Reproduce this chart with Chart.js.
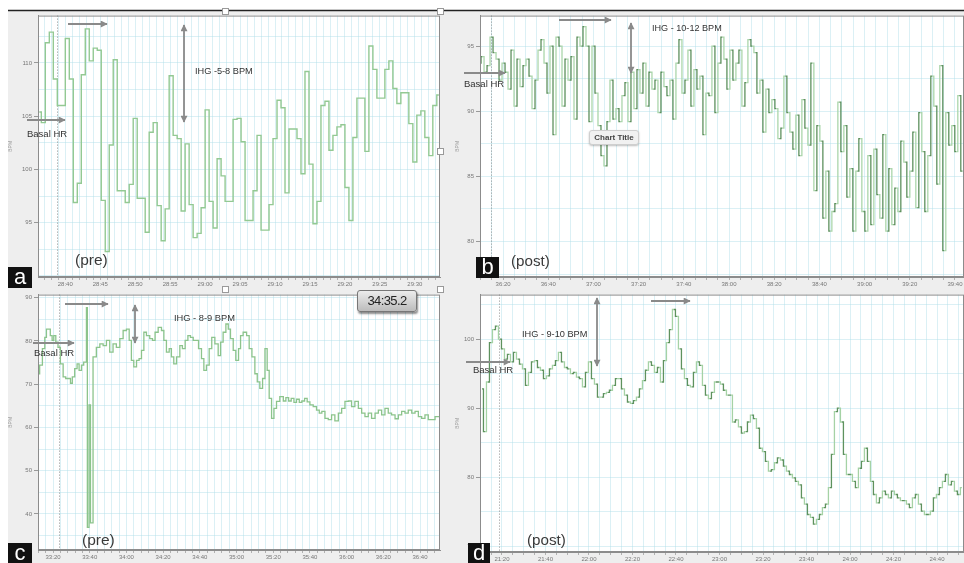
<!DOCTYPE html>
<html>
<head>
<meta charset="utf-8">
<script src="https://cdn.jsdelivr.net/npm/chart.js@4.4.1/dist/chart.umd.min.js"></script>
<style>
body{margin:0;background:#fff;}
#page{position:relative;width:964px;height:563px;overflow:hidden;font-family:"Liberation Sans",Arial,sans-serif;}
canvas{position:absolute;}
.t{position:absolute;white-space:nowrap;color:#333;line-height:1;}
.lab{position:absolute;background:#111;color:#fff;font-size:22px;line-height:20px;text-align:center;}
.hd{position:absolute;width:5px;height:5px;background:#fff;border:1px solid #999;}
</style>
</head>
<body>
<div id="page">
<canvas id="ca" width="447" height="281" style="left:8px;top:10px"></canvas>
<canvas id="cb" width="509" height="281" style="left:455px;top:10px"></canvas>
<canvas id="cc" width="447" height="274" style="left:8px;top:289px"></canvas>
<canvas id="cd" width="509" height="274" style="left:455px;top:289px"></canvas>

<svg width="964" height="563" style="position:absolute;left:0;top:0">
<defs>
<marker id="ah" viewBox="0 0 10 10" refX="9" refY="5" markerWidth="8" markerHeight="7" markerUnits="userSpaceOnUse" orient="auto-start-reverse">
<path d="M0,0 L10,5 L0,10 z" fill="#8a8a8a"/>
</marker>
</defs>
<line x1="8" y1="10.5" x2="964" y2="10.5" stroke="#222" stroke-width="1.5"/>
<!-- a -->
<line x1="68" y1="24" x2="107" y2="24" stroke="#8a8a8a" stroke-width="1.8" marker-end="url(#ah)"/>
<line x1="27" y1="120" x2="65" y2="120" stroke="#8a8a8a" stroke-width="1.8" marker-end="url(#ah)"/>
<line x1="184" y1="25" x2="184" y2="122" stroke="#8a8a8a" stroke-width="1.8" marker-start="url(#ah)" marker-end="url(#ah)"/>
<!-- b -->
<line x1="559" y1="20" x2="611" y2="20" stroke="#8a8a8a" stroke-width="1.8" marker-end="url(#ah)"/>
<line x1="464" y1="73" x2="505" y2="73" stroke="#8a8a8a" stroke-width="1.8" marker-end="url(#ah)"/>
<line x1="631" y1="23" x2="631" y2="73" stroke="#8a8a8a" stroke-width="1.8" marker-start="url(#ah)" marker-end="url(#ah)"/>
<!-- c -->
<line x1="65" y1="304" x2="108" y2="304" stroke="#8a8a8a" stroke-width="1.8" marker-end="url(#ah)"/>
<line x1="33" y1="343" x2="74" y2="343" stroke="#8a8a8a" stroke-width="1.8" marker-end="url(#ah)"/>
<line x1="135" y1="305" x2="135" y2="343" stroke="#8a8a8a" stroke-width="1.8" marker-start="url(#ah)" marker-end="url(#ah)"/>
<!-- d -->
<line x1="651" y1="301" x2="690" y2="301" stroke="#8a8a8a" stroke-width="1.8" marker-end="url(#ah)"/>
<line x1="466" y1="362" x2="510" y2="362" stroke="#8a8a8a" stroke-width="1.8" marker-end="url(#ah)"/>
<line x1="597" y1="298" x2="597" y2="366" stroke="#8a8a8a" stroke-width="1.8" marker-start="url(#ah)" marker-end="url(#ah)"/>
</svg>

<div class="hd" style="left:222px;top:8px"></div>
<div class="hd" style="left:437px;top:8px"></div>
<div class="hd" style="left:437px;top:148px"></div>
<div class="hd" style="left:437px;top:286px"></div>
<div class="hd" style="left:222px;top:286px"></div>

<div class="t" style="left:27px;top:129px;font-size:9.5px">Basal HR</div>
<div class="t" style="left:195px;top:67px;font-size:9.2px">IHG -5-8 BPM</div>
<div class="t" style="left:75px;top:252px;font-size:15.5px;color:#3a3a3a">(pre)</div>

<div class="t" style="left:464px;top:79px;font-size:9.5px">Basal HR</div>
<div class="t" style="left:652px;top:24px;font-size:9.1px">IHG - 10-12 BPM</div>
<div class="t" style="left:511px;top:253px;font-size:15.2px;color:#3a3a3a">(post)</div>
<div class="t" style="left:589px;top:130px;width:48px;height:13px;line-height:13px;text-align:center;font-size:8px;font-weight:bold;color:#444;background:#f1f1f1;border:1px solid #cfcfcf;border-radius:3px;box-shadow:0 1px 2px rgba(0,0,0,0.25)">Chart Title</div>

<div class="t" style="left:34px;top:348px;font-size:9.5px">Basal HR</div>
<div class="t" style="left:174px;top:314px;font-size:9.3px">IHG - 8-9 BPM</div>
<div class="t" style="left:82px;top:532px;font-size:15.5px;color:#3a3a3a">(pre)</div>
<div class="t" style="left:357px;top:290px;width:58px;height:20px;line-height:20px;text-align:center;font-size:13px;color:#222;letter-spacing:-0.6px;background:linear-gradient(#ececec,#bcbcbc);border:1px solid #777;border-radius:3px;box-shadow:1px 2px 2px rgba(0,0,0,0.45)">34:35.2</div>

<div class="t" style="left:473px;top:365px;font-size:9.5px">Basal HR</div>
<div class="t" style="left:522px;top:330px;font-size:9.2px">IHG - 9-10 BPM</div>
<div class="t" style="left:527px;top:532px;font-size:15.2px;color:#3a3a3a">(post)</div>

<div class="lab" style="left:8px;top:267px;width:24px;height:21px">a</div>
<div class="lab" style="left:476px;top:257px;width:23px;height:21px">b</div>
<div class="lab" style="left:8px;top:543px;width:24px;height:20px">c</div>
<div class="lab" style="left:468px;top:543px;width:22px;height:20px">d</div>
</div>

<script>
var FONT = '"Liberation Sans", Arial, sans-serif';
var GRID = 'rgba(175,222,232,0.45)';

// panel a (pre) - beat to beat HR, one value per beat slot
var aStart = 1716.29, aStep = 0.5714;
var aHR = [105.4, 104.4, 111.9, 112.9, 108.5, 106.0, 106.0, 112.3, 108.5, 96.9,
  98.7, 108.9, 113.2, 110.2, 111.4, 111.2, 97.1, 92.3, 102.3, 110.3,
  98.0, 98.0, 96.9, 98.6, 104.8, 97.3, 97.3, 94.1, 103.5, 104.4,
  96.6, 93.3, 96.3, 108.8, 103.2, 102.9, 96.1, 102.4, 96.7, 93.6,
  94.0, 96.4, 105.6, 97.0, 94.5, 101.0, 99.4, 97.0, 97.0, 104.7,
  104.8, 102.6, 95.2, 95.2, 98.0, 103.2, 94.3, 94.3, 96.7, 102.9,
  106.5, 105.8, 97.8, 103.8, 103.8, 102.9, 99.6, 109.2, 100.5, 94.9,
  97.0, 106.0, 106.4, 101.8, 103.2, 104.0, 104.2, 98.3, 95.2, 103.0,
  106.7, 106.7, 101.7, 111.6, 109.4, 106.7, 106.7, 109.4, 110.2, 107.6,
  106.2, 107.2, 107.2, 104.3, 100.7, 105.1, 105.5, 103.0, 101.3, 106.0,
  107.0];
var aXMajor = ['28:40','28:45','28:50','28:55','29:00','29:05','29:10','29:15','29:20','29:25','29:30'];
var aYMajor = [95, 100, 105, 110];
var aMark = 1718.86;

// panel b (post)
var bStart = 2169.6, bStep = 1.327;
var bHR = [93.7, 94.2, 93.0, 93.5, 95.7, 94.5, 94.0, 92.4, 93.7, 93.0,
  91.7, 94.7, 90.4, 94.0, 91.9, 93.5, 94.0, 92.7, 90.2, 92.4,
  94.7, 95.5, 93.7, 91.4, 95.0, 88.2, 95.7, 95.0, 90.4, 94.0,
  92.4, 94.2, 89.4, 95.7, 95.0, 96.5, 95.0, 89.2, 95.0, 91.4,
  88.9, 86.6, 85.8, 89.2, 92.4, 89.4, 90.2, 89.2, 91.2, 92.2,
  89.2, 93.0, 90.2, 93.2, 91.4, 93.7, 90.4, 93.0, 91.7, 92.4,
  89.9, 93.0, 91.9, 91.2, 92.4, 89.4, 93.7, 95.5, 91.4, 92.4,
  94.7, 90.4, 93.2, 91.7, 92.7, 88.2, 91.4, 91.2, 95.0, 89.9,
  93.7, 95.7,
  94.0, 91.7, 94.7, 92.4, 93.7, 94.7, 90.4, 92.2, 95.5, 95.0,
  94.5, 91.4, 92.4, 88.4, 91.7, 89.9, 90.9, 90.2, 87.9, 88.7,
  92.7, 89.9, 88.4, 87.1, 89.7, 86.6, 90.9, 88.7, 87.4, 93.7,
  83.9, 88.9, 87.7, 81.8, 85.4, 80.8, 82.3, 82.9, 90.7, 86.9,
  88.9, 83.4, 85.6, 80.8, 85.4, 87.9, 82.3, 80.8, 86.6, 81.3,
  87.1, 83.6, 81.8, 88.2, 80.8, 85.6, 81.3, 84.1, 82.3, 87.7,
  86.1, 83.4, 85.4, 88.4, 82.6, 89.9, 86.9, 82.3, 86.6, 92.7,
  90.4, 84.4, 93.5, 79.3, 89.9, 87.4, 88.9, 86.9, 91.2, 85.4,
  88.7, 87.4];
var bXMajor = ['36:20','36:40','37:00','37:20','37:40','38:00','38:20','38:40','39:00','39:20','39:40'];
var bYMajor = [80, 85, 90, 95];
var bMark = 2174.7;

// panel c (pre) - step start times (s) and HR
var cTime = [1991.8, 1992.7, 1994.2, 1995.5, 1996.4, 1998.5, 1999.5, 2000.4, 2001.5, 2002.7,
  2004.0, 2005.5, 2006.9, 2009.5, 2010.5, 2011.8, 2013.1, 2014.2, 2015.5, 2016.7,
  2018.2, 2018.7, 2019.6, 2020.4, 2021.8, 2023.6, 2025.5, 2027.3, 2029.1, 2030.9,
  2032.7, 2034.5, 2036.4, 2038.2, 2040.0, 2041.5, 2042.7, 2044.0, 2045.5, 2046.9,
  2048.2, 2049.5, 2050.9, 2052.7, 2054.2, 2055.6, 2057.3, 2059.1, 2060.4, 2061.8,
  2063.3, 2064.5, 2065.8, 2067.3, 2069.1, 2070.5, 2072.0, 2073.5, 2074.9, 2076.4,
  2079.3, 2080.9, 2082.2, 2083.6, 2085.1, 2086.5, 2088.2, 2090.0, 2091.3, 2092.7,
  2094.2, 2095.5, 2096.7, 2098.2, 2099.6, 2101.1, 2102.2, 2103.6, 2105.5, 2106.9,
  2108.4, 2110.0, 2111.3, 2112.7, 2114.2, 2115.5, 2116.7, 2117.8, 2119.1, 2120.4,
  2121.8, 2123.6, 2125.5, 2126.9, 2128.4, 2129.8, 2131.3, 2132.7, 2134.2, 2135.6,
  2137.1, 2138.5, 2140.0, 2141.8, 2143.6, 2145.1, 2146.5, 2148.2, 2150.0, 2151.8,
  2153.6, 2155.5, 2157.3, 2159.1, 2160.9, 2162.7, 2164.5, 2166.4, 2168.2, 2170.0,
  2171.8, 2173.6, 2175.5, 2177.3, 2179.1, 2180.9, 2182.7, 2184.5, 2186.4, 2188.2,
  2190.0, 2191.8, 2193.6, 2195.5, 2197.3, 2199.1, 2200.9, 2202.7, 2204.5, 2206.4,
  2208.2, 2210.9];
var cHR = [72.4, 74.4, 78.2, 80.8, 82.7, 81.2, 80.1, 81.2, 79.7, 78.5,
  74.7, 71.7, 71.3, 70.2, 71.7, 73.6, 74.7, 73.2, 74.4, 75.1,
  87.7, 36.9, 65.2, 37.9, 76.3, 78.5, 79.3, 78.9, 80.1, 77.4,
  79.3, 78.5, 80.5, 82.4, 82.7, 80.1, 75.5, 74.0, 75.5, 75.9,
  77.8, 82.0, 81.2, 80.5, 80.1, 82.0, 83.1, 82.4, 80.1, 77.4,
  78.2, 76.3, 74.7, 76.3, 78.9, 78.2, 80.1, 81.2, 80.8, 80.1,
  78.2, 75.9, 73.2, 74.4, 78.2, 80.8, 79.3, 76.6, 79.7, 82.0,
  83.9, 82.7, 80.5, 77.8, 75.5, 78.2, 81.2, 82.0, 81.2, 78.2,
  76.3, 72.4, 70.5, 69.0, 71.3, 78.2, 73.2, 66.7, 62.1, 64.4,
  66.0, 67.1, 66.1, 66.9, 66.1, 66.7, 65.8, 66.5, 65.8, 66.1,
  66.7, 65.9, 65.2, 64.8, 64.0, 63.3, 63.7, 62.1, 61.8, 62.9,
  61.5, 63.3, 64.4, 66.0, 66.1, 64.8, 66.0, 64.4, 63.3, 62.5,
  63.3, 62.1, 63.3, 64.0, 62.9, 64.4, 63.3, 62.9, 62.0, 62.9,
  63.7, 63.3, 64.0, 63.3, 63.7, 62.5, 62.1, 62.9, 61.8, 61.8,
  62.5, 62.5];
var cXMajor = ['33:20','33:40','34:00','34:20','34:40','35:00','35:20','35:40','36:00','36:20','36:40'];
var cYMajor = [40, 50, 60, 70, 80, 90];
var cMark = 2003.1;

// panel d (post)
var dStart = 1270.8, dStep = 1.379;
var dHR = [92.8, 86.6, 93.8, 99.5, 101.4, 101.9, 100.0, 98.6, 97.1, 97.8,
  96.7, 98.1, 97.1, 96.4, 95.7, 93.3, 95.2, 96.7, 96.9, 95.9,
  95.5, 94.3, 94.7, 95.7, 96.2, 96.9, 98.1, 96.7, 95.9, 95.7,
  95.0, 95.2, 94.5, 94.3, 93.1, 95.2, 96.7, 94.3, 93.5, 91.6,
  91.6, 92.1, 92.3, 92.6, 93.3, 94.3, 94.3, 92.8, 91.9, 90.9,
  90.7, 91.1, 91.6, 92.8, 94.0, 95.5, 96.7, 96.2, 95.2, 95.9,
  93.8, 96.9, 99.5, 101.4, 104.3, 103.3, 98.6, 95.7, 94.3, 93.3,
  93.1, 95.2, 96.7, 96.2, 93.3, 91.9, 91.4, 92.3, 93.8, 93.8,
  93.5, 92.6, 91.9, 91.9, 88.0, 88.3, 87.3, 86.4, 86.6, 88.0,
  89.0, 88.5, 87.1, 84.2, 83.7, 82.3, 80.9, 81.1, 82.1, 82.8,
  82.5, 81.6, 80.9, 80.4, 79.9, 79.4, 78.9, 77.0, 76.1, 74.6,
  74.2, 73.2, 73.9, 74.6, 75.6, 76.1, 78.5, 83.3, 89.5, 90.0,
  88.0, 83.3, 80.4, 80.4, 79.4, 78.5, 81.3, 82.3, 84.2, 82.3,
  79.4, 77.5, 76.3, 77.0, 78.0, 77.5, 77.0, 78.0, 77.5, 77.0,
  76.6, 76.6, 76.1, 75.6, 77.0, 77.5, 76.1, 75.1, 74.6, 74.6,
  75.1, 77.0, 77.5, 78.5, 79.4, 80.4, 78.9, 79.4, 78.0, 77.5, 78.5];
var dXMajor = ['21:20','21:40','22:00','22:20','22:40','23:00','23:20','23:40','24:00','24:20','24:40'];
var dYMajor = [70, 80, 90, 100];
var dMark = 1278.6;

function toSec(s) {
	var p = s.split(':');
	return (+p[0]) * 60 + (+p[1]);
}

function stepTicks(min, max, step) {
	var out = [];
	for (var k = Math.ceil(min / step - 1e-9); k * step <= max + 1e-9; k++) {
		out.push({value: Math.round(k * step * 1000) / 1000});
	}
	return out;
}

function uniformPoints(start, step, vals) {
	return vals.map(function(v, i) { return {x: start + i * step, y: v}; });
}

function pairPoints(times, vals) {
	return times.map(function(t, i) { return {x: t, y: vals[i]}; });
}

var framePlugin = {
	id: 'frame',
	beforeDraw: function(chart) {
		var c = chart.ctx, a = chart.chartArea;
		c.save();
		c.fillStyle = '#eeeeee';
		c.fillRect(0, 0, chart.width, chart.height);
		c.fillStyle = '#ffffff';
		c.fillRect(a.left, a.top, a.right - a.left, a.bottom - a.top);
		c.restore();
	},
	beforeDatasetsDraw: function(chart, args, opts) {
		if (opts.mark == null) return;
		var c = chart.ctx, a = chart.chartArea;
		var x = Math.round(chart.scales.x.getPixelForValue(opts.mark)) + 0.5;
		c.save();
		c.strokeStyle = '#8f8f8f';
		c.lineWidth = 1;
		c.setLineDash([1, 2]);
		c.beginPath();
		c.moveTo(x, a.top);
		c.lineTo(x, a.bottom);
		c.stroke();
		c.restore();
	},
	afterDraw: function(chart) {
		var c = chart.ctx, a = chart.chartArea;
		c.save();
		c.strokeStyle = '#8c8c8c';
		c.lineWidth = 1;
		c.strokeRect(a.left + 0.5, a.top + 0.5, a.right - a.left - 1, a.bottom - a.top - 1);
		c.restore();
	}
};

function makePanel(id, p) {
	var xMaj = p.xMajor.map(toSec);
	var ds = {
		data: p.points,
		stepped: p.stepped,
		borderColor: p.color,
		borderWidth: p.width,
		pointRadius: 0,
		fill: false
	};
	if (p.dark) {
		ds.segment = {
			borderColor: function(ctx) { return (ctx.p0DataIndex % 2) ? p.color : p.dark; }
		};
	}
	return new Chart(document.getElementById(id), {
		type: 'line',
		data: {datasets: [ds]},
		plugins: [framePlugin],
		options: {
			responsive: false,
			animation: false,
			devicePixelRatio: 1,
			layout: {padding: p.pad},
			plugins: {
				legend: {display: false},
				tooltip: {enabled: false},
				frame: {mark: p.mark}
			},
			scales: {
				x: {
					type: 'linear', min: p.xMin, max: p.xMax,
					afterBuildTicks: function(s) { s.ticks = stepTicks(p.xMin, p.xMax, p.xMinor); },
					afterFit: function(s) { s.height = p.xH; },
					ticks: {
						autoSkip: false, maxRotation: 0, padding: 1, color: '#777',
						font: {size: 6, family: FONT},
						callback: function(v) {
							for (var i = 0; i < xMaj.length; i++) {
								if (Math.abs(xMaj[i] - v) < 0.01) return p.xMajor[i];
							}
							return '';
						}
					},
					grid: {color: GRID, tickLength: 3, tickColor: '#b0b0b0'},
					border: {color: '#8c8c8c'}
				},
				y: {
					type: 'linear', min: p.yMin, max: p.yMax,
					afterBuildTicks: function(s) { s.ticks = stepTicks(p.yMin, p.yMax, p.yMinor); },
					afterFit: function(s) { s.width = p.yW; },
					title: {display: true, text: 'BPM', color: '#999', font: {size: 5, family: FONT}, padding: 0},
					ticks: {
						autoSkip: false, padding: 2, color: '#777',
						font: {size: 6, family: FONT},
						callback: function(v) { return p.yMajor.indexOf(v) >= 0 ? String(v) : ''; }
					},
					grid: {
						color: GRID, tickLength: 4,
						tickColor: function(c) { return (c.tick && p.yMajor.indexOf(c.tick.value) >= 0) ? '#999' : 'rgba(0,0,0,0)'; }
					},
					border: {color: '#8c8c8c'}
				}
			}
		}
	});
}

makePanel('ca', {
	points: uniformPoints(aStart, aStep, aHR), stepped: 'middle',
	color: '#93c993', width: 1.4,
	xMin: 1716.1, xMax: 1773.6, xMinor: 1, xMajor: aXMajor,
	yMin: 89.9, yMax: 114.45, yMinor: 2.5, yMajor: aYMajor,
	pad: {top: 2, right: 15, left: 0, bottom: 0}, yW: 30, xH: 14, mark: aMark
});

makePanel('cb', {
	points: uniformPoints(bStart, bStep, bHR), stepped: 'middle',
	color: '#abd6ab', dark: '#5d905d', width: 1.3,
	xMin: 2169.8, xMax: 2384.0, xMinor: 5, xMajor: bXMajor,
	yMin: 77.27, yMax: 97.35, yMinor: 2.5, yMajor: bYMajor,
	pad: {top: 2, right: 0, left: 0, bottom: 0}, yW: 25, xH: 14, mark: bMark
});

makePanel('cc', {
	points: pairPoints(cTime, cHR), stepped: true,
	color: '#8cc48c', width: 1.3,
	xMin: 1991.8, xMax: 2210.9, xMinor: 4, xMajor: cXMajor,
	yMin: 31.65, yMax: 90.7, yMinor: 5, yMajor: cYMajor,
	pad: {top: 3, right: 15, left: 0, bottom: 0}, yW: 30, xH: 13, mark: cMark
});

makePanel('cd', {
	points: uniformPoints(dStart, dStep, dHR), stepped: 'middle',
	color: '#a5d2a5', dark: '#5e925e', width: 1.3,
	xMin: 1269.9, xMax: 1492.4, xMinor: 5, xMajor: dXMajor,
	yMin: 69.17, yMax: 106.46, yMinor: 5, yMajor: dYMajor,
	pad: {top: 3, right: 0, left: 0, bottom: 0}, yW: 25, xH: 11, mark: dMark
});
</script>
</body>
</html>
